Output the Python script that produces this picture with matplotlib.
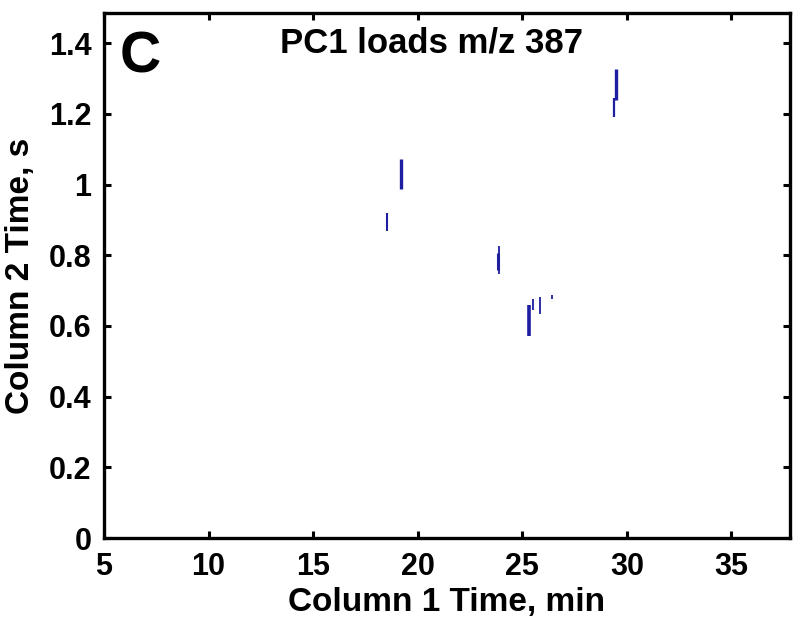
import numpy as np
import matplotlib
matplotlib.use('Agg')
from matplotlib import pyplot as plt

plt.rcParams['font.family'] = ['Liberation Sans', 'DejaVu Sans']
plt.rcParams['font.weight'] = 'bold'

# PC1 loading spots (column 1 time in min, column 2 time range in s)
spot_x = [19.2, 18.53, 23.89, 23.85, 25.32, 25.5, 25.86, 26.4, 29.46, 29.38]
spot_y0 = [0.987, 0.868, 0.746, 0.758, 0.571, 0.645, 0.633, 0.675, 1.238, 1.191]
spot_y1 = [1.072, 0.920, 0.826, 0.806, 0.659, 0.676, 0.682, 0.687, 1.328, 1.244]
spot_w = [2.4, 1.5, 1.3, 2.2, 2.6, 1.3, 1.3, 1.3, 2.4, 1.6]

xticks = [5, 10, 15, 20, 25, 30, 35]
yticks = [0, 0.2, 0.4, 0.6, 0.8, 1, 1.2, 1.4]
ytick_labels = ['0', '0.2', '0.4', '0.6', '0.8', '1', '1.2', '1.4']

fig = plt.figure(figsize=(8, 6.23), dpi=100)
ax = fig.add_axes([0.13, 0.1364, 0.8575, 0.8426])

ax.vlines(spot_x, spot_y0, spot_y1, colors='#1e1ea0', linewidths=spot_w)

ax.set_xlim(5, 37.8)
ax.set_ylim(0, 1.485)
ax.set_xticks(xticks)
ax.set_yticks(yticks)
ax.set_yticklabels(ytick_labels)
ax.tick_params(direction='in', length=5, width=2.2, labelsize=22,
               top=True, right=True)
ax.tick_params(axis='x', pad=10)
ax.tick_params(axis='y', pad=9)
for lab in ax.get_xticklabels() + ax.get_yticklabels():
    lab.set_fontweight('bold')
for s in ax.spines.values():
    s.set_linewidth(2.4)

ax.set_xlabel('Column 1 Time, min', fontsize=24, fontweight='bold', labelpad=4)
ax.set_ylabel('Column 2 Time, s', fontsize=24, fontweight='bold', labelpad=9)
ax.text(0.2566, 0.924, 'PC1 loads m/z 387', transform=ax.transAxes, ha='left',
        va='baseline', fontsize=25, fontweight='bold')
ax.text(0.0233, 0.886, 'C', transform=ax.transAxes, ha='left', va='baseline',
        fontsize=41, fontweight='bold')

fig.savefig('out.png', dpi=100)
